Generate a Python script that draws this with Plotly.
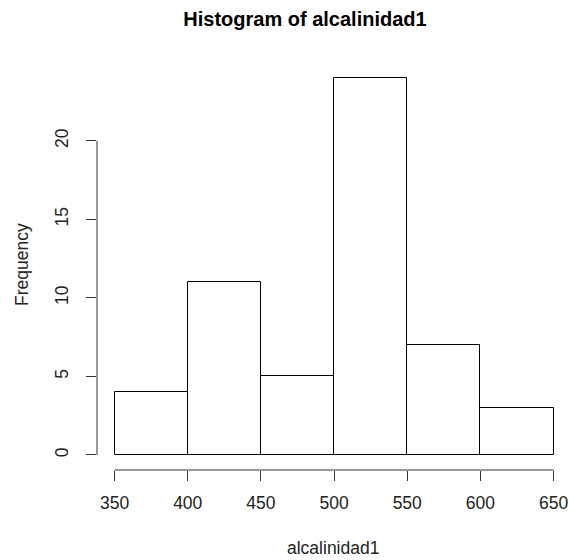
import plotly.graph_objects as go

bin_edges = [350, 400, 450, 500, 550, 600, 650]
counts = [4, 11, 5, 24, 7, 3]
x_ticks = [350, 400, 450, 500, 550, 600, 650]
y_ticks = [0, 5, 10, 15, 20]

centers = [(a + b) / 2 for a, b in zip(bin_edges[:-1], bin_edges[1:])]
widths = [b - a for a, b in zip(bin_edges[:-1], bin_edges[1:])]

FONT = "Liberation Sans, Arial, sans-serif"
W, H = 569, 560
L, R, T, B = 97, 0, 63, 90
pw, ph = W - L - R, H - T - B
FS = 17.5

fig = go.Figure()
fig.add_trace(go.Bar(
    x=centers, y=counts, width=widths,
    marker=dict(color="white", line=dict(color="black", width=1)),
    showlegend=False, hoverinfo="x+y",
))

fig.update_layout(
    width=W, height=H,
    margin=dict(l=L, r=R, t=T, b=B, pad=0),
    plot_bgcolor="white", paper_bgcolor="white",
    font=dict(family=FONT, size=FS, color="#222"),
    bargap=0,
    title=dict(text="<b>Histogram of alcalinidad1</b>", x=0.536, xref="container",
               y=1 - 19 / H, yref="container", xanchor="center", yanchor="middle",
               font=dict(family=FONT, size=20, color="black")),
    xaxis=dict(range=[338, 338 + pw / 1.4633], tickvals=x_ticks, ticks="outside",
               ticklen=10, tickcolor="#333", showgrid=False, zeroline=False,
               showline=False, ticklabelstandoff=7),
    yaxis=dict(range=[-0.96, 24.96], tickvals=y_ticks, ticks="outside",
               ticklen=10, tickcolor="#333", showgrid=False, zeroline=False,
               showline=False, tickangle=-90, ticklabelstandoff=11),
    shapes=[
        dict(type="line", xref="x", yref="paper", x0=x_ticks[0], x1=x_ticks[-1],
             y0=0, y1=0, line=dict(color="#333", width=1)),
        dict(type="line", xref="paper", yref="y", x0=0, x1=0,
             y0=y_ticks[0], y1=y_ticks[-1], line=dict(color="#333", width=1)),
    ],
    annotations=[
        dict(text="alcalinidad1", xref="paper", yref="paper",
             x=(333 - L) / pw, y=(H - B - 548) / ph, showarrow=False,
             xanchor="center", yanchor="middle", font=dict(size=FS, color="#222")),
        dict(text="Frequency", xref="paper", yref="paper",
             x=(22 - L) / pw, y=(H - B - 265) / ph, showarrow=False, textangle=-90,
             xanchor="center", yanchor="middle", font=dict(size=FS, color="#222")),
    ],
)

fig.write_html("out.html")
